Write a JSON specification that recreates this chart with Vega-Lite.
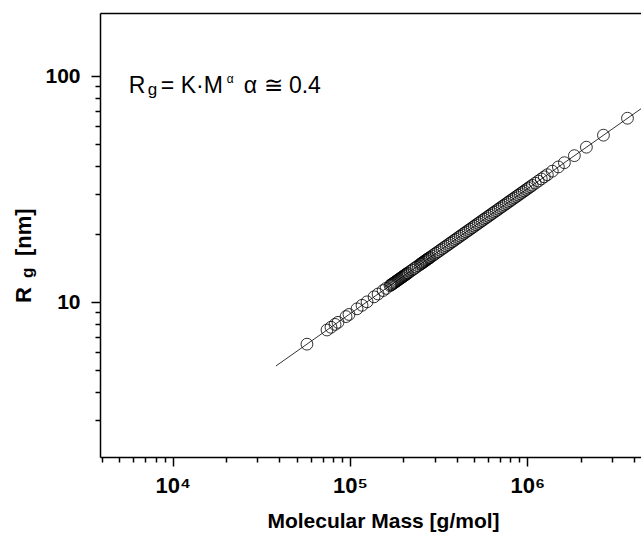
{
  "$schema": "https://vega.github.io/schema/vega-lite/v6.json",
  "width": 541,
  "height": 444,
  "autosize": {"type": "none"},
  "padding": {"left": 100, "top": 13, "right": 0, "bottom": 77},
  "background": "white",
  "config": {"view": {"stroke": null}, "font": "Liberation Sans"},
  "datasets": {
    "points": [
      {"M": 57170, "Rg": 6.51}, {"M": 74180, "Rg": 7.52}, {"M": 78130, "Rg": 7.73}, {"M": 82310, "Rg": 7.96}, {"M": 85570, "Rg": 8.13}, {"M": 94950, "Rg": 8.62}, {"M": 98720, "Rg": 8.81}, {"M": 109550, "Rg": 9.33}, {"M": 116900, "Rg": 9.67}, {"M": 124800, "Rg": 10.02}, {"M": 136700, "Rg": 10.54}, {"M": 144000, "Rg": 10.85}, {"M": 153700, "Rg": 11.24}, {"M": 159800, "Rg": 11.49},
      {"M": 168300, "Rg": 11.82}, {"M": 170500, "Rg": 11.91}, {"M": 172700, "Rg": 11.99}, {"M": 175000, "Rg": 12.08}, {"M": 177300, "Rg": 12.16}, {"M": 179600, "Rg": 12.25}, {"M": 182000, "Rg": 12.34}, {"M": 184300, "Rg": 12.43}, {"M": 186800, "Rg": 12.52}, {"M": 189200, "Rg": 12.61}, {"M": 191700, "Rg": 12.70}, {"M": 194200, "Rg": 12.79}, {"M": 196700, "Rg": 12.88}, {"M": 199300, "Rg": 12.98}, {"M": 201900, "Rg": 13.07}, {"M": 204500, "Rg": 13.16}, {"M": 207200, "Rg": 13.26}, {"M": 209900, "Rg": 13.36}, {"M": 212700, "Rg": 13.45},
      {"M": 218300, "Rg": 13.65}, {"M": 224000, "Rg": 13.85}, {"M": 229900, "Rg": 14.05}, {"M": 236000, "Rg": 14.25}, {"M": 242200, "Rg": 14.46}, {"M": 248600, "Rg": 14.67},
      {"M": 251900, "Rg": 14.78}, {"M": 255200, "Rg": 14.88}, {"M": 258500, "Rg": 14.99}, {"M": 261900, "Rg": 15.10}, {"M": 265300, "Rg": 15.21}, {"M": 268800, "Rg": 15.32}, {"M": 272300, "Rg": 15.43}, {"M": 275900, "Rg": 15.54}, {"M": 279500, "Rg": 15.65}, {"M": 283200, "Rg": 15.76},
      {"M": 290600, "Rg": 15.99}, {"M": 298300, "Rg": 16.22}, {"M": 306100, "Rg": 16.46}, {"M": 314200, "Rg": 16.69}, {"M": 322500, "Rg": 16.94}, {"M": 331000, "Rg": 17.18}, {"M": 339700, "Rg": 17.43}, {"M": 348700, "Rg": 17.68}, {"M": 357900, "Rg": 17.94}, {"M": 367300, "Rg": 18.20}, {"M": 377000, "Rg": 18.46}, {"M": 386900, "Rg": 18.73}, {"M": 397100, "Rg": 19.00}, {"M": 407600, "Rg": 19.28}, {"M": 418300, "Rg": 19.55}, {"M": 429300, "Rg": 19.84}, {"M": 440600, "Rg": 20.13}, {"M": 452200, "Rg": 20.42}, {"M": 464100, "Rg": 20.71}, {"M": 476400, "Rg": 21.01}, {"M": 488900, "Rg": 21.32}, {"M": 501800, "Rg": 21.63}, {"M": 515000, "Rg": 21.95}, {"M": 528600, "Rg": 22.26}, {"M": 542500, "Rg": 22.59}, {"M": 556800, "Rg": 22.92}, {"M": 571500, "Rg": 23.25}, {"M": 586500, "Rg": 23.58}, {"M": 602000, "Rg": 23.93}, {"M": 617800, "Rg": 24.27}, {"M": 634100, "Rg": 24.63}, {"M": 650800, "Rg": 24.98}, {"M": 668000, "Rg": 25.34}, {"M": 685600, "Rg": 25.71}, {"M": 703700, "Rg": 26.09}, {"M": 722200, "Rg": 26.46}, {"M": 741300, "Rg": 26.85}, {"M": 760800, "Rg": 27.24}, {"M": 780900, "Rg": 27.63}, {"M": 801500, "Rg": 28.03}, {"M": 822600, "Rg": 28.44}, {"M": 844300, "Rg": 28.85}, {"M": 866600, "Rg": 29.27}, {"M": 889400, "Rg": 29.69}, {"M": 912900, "Rg": 30.12}, {"M": 937000, "Rg": 30.56}, {"M": 961700, "Rg": 31.00}, {"M": 987000, "Rg": 31.45}, {"M": 1013000, "Rg": 31.91}, {"M": 1040000, "Rg": 32.37}, {"M": 1067000, "Rg": 32.84}, {"M": 1109000, "Rg": 33.55}, {"M": 1153000, "Rg": 34.29}, {"M": 1199000, "Rg": 35.04}, {"M": 1247000, "Rg": 35.80}, {"M": 1297000, "Rg": 36.58},
      {"M": 1384000, "Rg": 37.92}, {"M": 1497000, "Rg": 39.60}, {"M": 1619000, "Rg": 41.34}, {"M": 1843000, "Rg": 44.42}, {"M": 2154000, "Rg": 48.42}, {"M": 2688000, "Rg": 54.72}, {"M": 3673000, "Rg": 65.04}
    ],
    "fit": [{"M": 38190, "Rg": 5.21}, {"M": 9500000, "Rg": 109.9}]
  },
  "layer": [
    {
      "data": {"name": "fit"},
      "mark": {"type": "line", "color": "black", "strokeWidth": 0.8, "clip": true},
      "encoding": {
        "x": {"field": "M", "type": "quantitative",
          "scale": {"type": "log", "domain": [3890, 4378000], "nice": false},
          "axis": {"orient": "bottom", "values": [10000, 100000, 1000000], "grid": false,
            "labelExpr": "datum.value == 10000 ? '10⁴' : datum.value == 100000 ? '10⁵' : '10⁶'",
            "tickSize": 9, "tickWidth": 1.5, "tickColor": "black", "domainColor": "black", "domainWidth": 1.5,
            "labelFont": "Liberation Sans", "labelFontSize": 22, "labelFontWeight": "bold", "labelColor": "black", "labelPadding": 9,
            "title": "Molecular Mass [g/mol]", "titleFont": "Liberation Sans", "titleFontSize": 21, "titleFontWeight": "bold", "titleColor": "black", "titlePadding": 14, "titleX": 283}},
        "y": {"field": "Rg", "type": "quantitative",
          "scale": {"type": "log", "domain": [2.062, 190], "nice": false},
          "axis": {"orient": "left", "values": [10, 100], "grid": false,
            "labelExpr": "format(datum.value, 'd')",
            "tickSize": 9, "tickWidth": 1.5, "tickColor": "black", "domainColor": "black", "domainWidth": 1.5,
            "labelFont": "Liberation Sans", "labelFontSize": 21, "labelFontWeight": "bold", "labelColor": "black", "labelPadding": 11,
            "title": null}}
      }
    },
    {
      "data": {"name": "points"},
      "mark": {"type": "point", "shape": "circle", "filled": false, "stroke": "black", "strokeWidth": 0.8, "size": 140, "opacity": 1},
      "encoding": {
        "x": {"field": "M", "type": "quantitative",
          "axis": {"orient": "bottom", "values": [4000, 5000, 6000, 7000, 8000, 9000, 20000, 30000, 40000, 50000, 60000, 70000, 80000, 90000, 200000, 300000, 400000, 500000, 600000, 700000, 800000, 900000, 2000000, 3000000, 4000000],
            "grid": false, "labels": false, "domain": false, "tickSize": 5, "tickWidth": 1.5, "tickColor": "black", "title": null}},
        "y": {"field": "Rg", "type": "quantitative",
          "axis": {"orient": "left", "values": [3, 4, 5, 6, 7, 8, 9, 20, 30, 40, 50, 60, 70, 80, 90],
            "grid": false, "labels": false, "domain": false, "tickSize": 5, "tickWidth": 1.5, "tickColor": "black", "title": null}}
      }
    },
    {
      "data": {"values": [{"M": 5650, "Rg": 84.1, "text": "R"}, {"M": 8553, "Rg": 84.1, "text": "="}, {"M": 11097, "Rg": 84.1, "text": "K·M"}, {"M": 25190, "Rg": 84.1, "text": "α ≅ 0.4"}]},
      "mark": {"type": "text", "align": "left", "baseline": "alphabetic", "font": "Liberation Sans", "fontSize": 23, "color": "black"},
      "encoding": {
        "x": {"field": "M", "type": "quantitative",
          "axis": {"orient": "top", "grid": false, "labels": false, "ticks": false, "domain": true, "domainColor": "black", "domainWidth": 1.5, "title": null}},
        "y": {"field": "Rg", "type": "quantitative", "axis": null},
        "text": {"field": "text"}
      }
    },
    {
      "data": {"values": [{"M": 7223, "Rg": 82.4, "text": "g"}]},
      "mark": {"type": "text", "align": "left", "baseline": "alphabetic", "font": "Liberation Sans", "fontSize": 17, "color": "black"},
      "encoding": {
        "x": {"field": "M", "type": "quantitative", "axis": null},
        "y": {"field": "Rg", "type": "quantitative", "axis": null},
        "text": {"field": "text"}
      }
    },
    {
      "data": {"values": [{"M": 20190, "Rg": 93.1, "text": "α"}]},
      "mark": {"type": "text", "align": "left", "baseline": "alphabetic", "font": "Liberation Sans", "fontSize": 12, "color": "black"},
      "encoding": {
        "x": {"field": "M", "type": "quantitative", "axis": null},
        "y": {"field": "Rg", "type": "quantitative", "axis": null},
        "text": {"field": "text"}
      }
    },
    {
      "data": {"values": [{"M": 1597, "Rg": 9.9, "text": "R"}, {"M": 1597, "Rg": 15.98, "text": "[nm]"}]},
      "mark": {"type": "text", "align": "left", "baseline": "alphabetic", "angle": 270, "font": "Liberation Sans", "fontSize": 22, "fontWeight": "bold", "color": "black", "clip": false},
      "encoding": {
        "x": {"field": "M", "type": "quantitative", "axis": null},
        "y": {"field": "Rg", "type": "quantitative", "axis": null},
        "text": {"field": "text"}
      }
    },
    {
      "data": {"values": [{"M": 1640, "Rg": 12.77, "text": "g"}]},
      "mark": {"type": "text", "align": "left", "baseline": "alphabetic", "angle": 270, "font": "Liberation Sans", "fontSize": 17, "fontWeight": "bold", "color": "black", "clip": false},
      "encoding": {
        "x": {"field": "M", "type": "quantitative", "axis": null},
        "y": {"field": "Rg", "type": "quantitative", "axis": null},
        "text": {"field": "text"}
      }
    }
  ],
  "resolve": {"axis": {"x": "independent", "y": "independent"}}
}
